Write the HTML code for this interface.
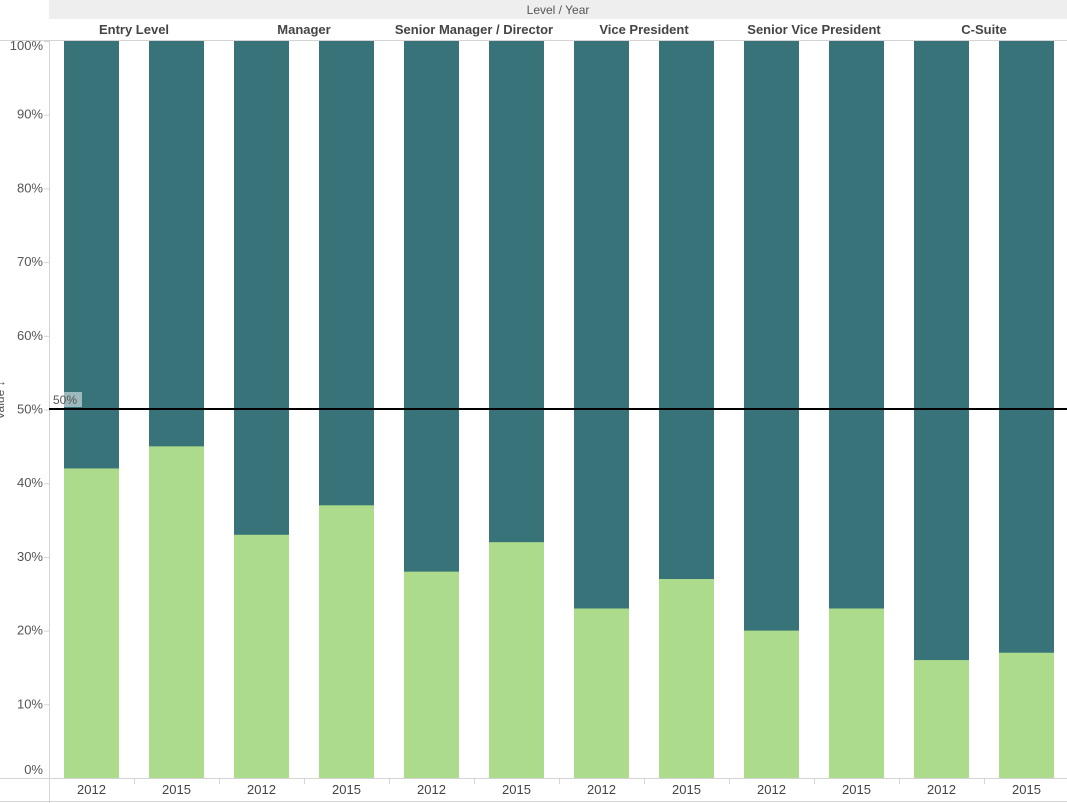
<!DOCTYPE html>
<html><head><style>body{margin:0;background:#fff}svg{display:block}</style></head><body>
<svg width="1067" height="803" xmlns="http://www.w3.org/2000/svg" font-family="Liberation Sans, sans-serif">
<rect x="49" y="0" width="1018" height="19" fill="#eeeeee"/>
<text x="558" y="14" font-size="12" fill="#555" text-anchor="middle">Level  /  Year</text>
<g font-size="13" font-weight="bold" fill="#444" text-anchor="middle">
<text x="134" y="34">Entry Level</text><text x="304" y="34">Manager</text><text x="474" y="34">Senior Manager / Director</text><text x="644" y="34">Vice President</text><text x="814" y="34">Senior Vice President</text><text x="984" y="34">C-Suite</text>
</g>
<line x1="0" y1="40.5" x2="1067" y2="40.5" stroke="#d4d4d4"/>
<line x1="49.5" y1="41" x2="49.5" y2="803" stroke="#d4d4d4"/>
<line x1="0" y1="778.5" x2="1067" y2="778.5" stroke="#d4d4d4"/>
<line x1="0" y1="801.5" x2="1067" y2="801.5" stroke="#d4d4d4"/>
<g id="bars"></g>
<g font-size="13" fill="#555" text-anchor="end" id="yl"></g>
<g font-size="13" fill="#444" text-anchor="middle" id="xl"></g>
<text transform="translate(4,400) rotate(-90)" font-size="12" fill="#555" text-anchor="middle">Value ↓</text>
<rect x="51" y="392" width="31" height="15" fill="#fff" opacity="0.5"/>
<text x="53" y="404" font-size="12" fill="#555">50%</text>
<line x1="49" y1="409" x2="1067" y2="409" stroke="#000" stroke-width="2"/>
</svg>
<script>
var g=[42,45,33,37,28,32,23,27,20,23,16,17],b=document.getElementById('bars'),ns='http://www.w3.org/2000/svg';
function R(x,y,w,h,f){var r=document.createElementNS(ns,'rect');r.setAttribute('x',x);r.setAttribute('y',y);r.setAttribute('width',w);r.setAttribute('height',h);r.setAttribute('fill',f);b.appendChild(r);}
var s=737/100,base=778;
g.forEach(function(v,i){var x=64+85*i;R(x,41,55,737,'#38737a');R(x,base-v*s,55,v*s,'#addb8c');
var t=document.createElementNS(ns,'text');t.setAttribute('x',x+27.5);t.setAttribute('y',794);t.textContent=i%2?'2015':'2012';document.getElementById('xl').appendChild(t);
R(49+85*i,778,1,6,'#d4d4d4');});
for(var k=0;k<=10;k++){var y=base-k*10*s;var t=document.createElementNS(ns,'text');t.setAttribute('x',43);t.setAttribute('y',y+(k==10?9:k==0?-4:4));t.textContent=k*10+'%';document.getElementById('yl').appendChild(t);R(44,y,5,1,'#d4d4d4');}
</script>
</body></html>
